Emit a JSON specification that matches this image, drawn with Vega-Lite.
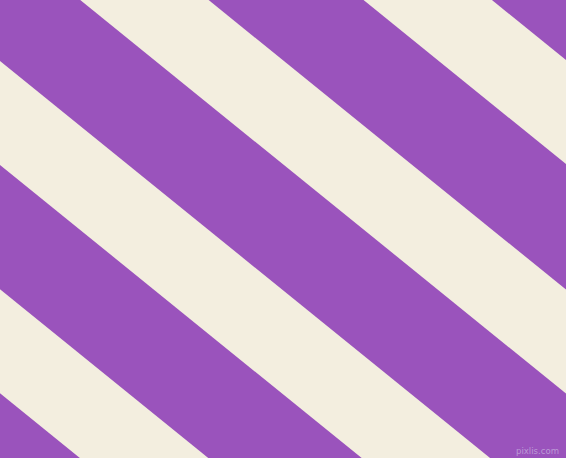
{
  "$schema": "https://vega.github.io/schema/vega-lite/v6.json",
  "width": 566,
  "height": 458,
  "padding": 0,
  "autosize": {"type": "none"},
  "background": "#9A53BC",
  "config": {"view": {"stroke": null}},
  "layer": [
    {
      "data": {"values": [
        {"stripe": "A", "x": 0, "y": -398.5, "y2": -294.5},
        {"stripe": "A", "x": 566, "y": 60, "y2": 164},
        {"stripe": "B", "x": 0, "y": -169, "y2": -65},
        {"stripe": "B", "x": 566, "y": 289.5, "y2": 393.5},
        {"stripe": "C", "x": 0, "y": 61, "y2": 165},
        {"stripe": "C", "x": 566, "y": 519.5, "y2": 623.5},
        {"stripe": "D", "x": 0, "y": 289.3, "y2": 393.3},
        {"stripe": "D", "x": 566, "y": 747.8, "y2": 851.8}
      ]},
      "mark": {"type": "area", "clip": true, "color": "#F3EEDF", "opacity": 1},
      "encoding": {
        "detail": {"field": "stripe", "type": "nominal"},
        "x": {"field": "x", "type": "quantitative", "scale": {"domain": [0, 566], "nice": false, "zero": false}, "axis": null},
        "y": {"field": "y", "type": "quantitative", "scale": {"domain": [0, 458], "nice": false, "zero": false, "reverse": true}, "axis": null},
        "y2": {"field": "y2"}
      }
    },
    {
      "data": {"values": [{"label": "pixlis.com", "x": 559, "y": 450.5}]},
      "mark": {"type": "text", "align": "right", "baseline": "middle", "fontSize": 9.5, "font": "DejaVu Sans Condensed", "color": "#BC9AD6"},
      "encoding": {
        "x": {"field": "x", "type": "quantitative", "scale": {"domain": [0, 566], "nice": false, "zero": false}, "axis": null},
        "y": {"field": "y", "type": "quantitative", "scale": {"domain": [0, 458], "nice": false, "zero": false, "reverse": true}, "axis": null},
        "text": {"field": "label"}
      }
    }
  ]
}
